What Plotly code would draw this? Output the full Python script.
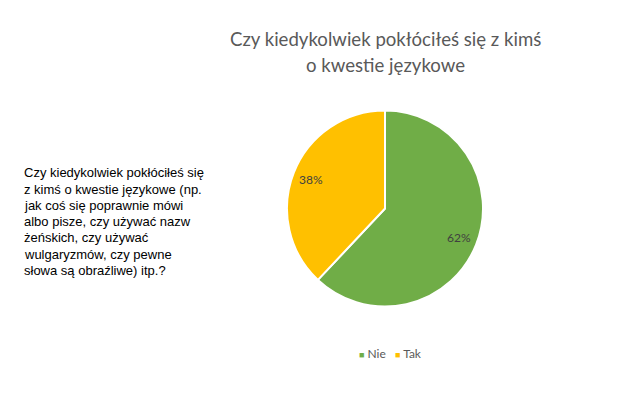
import math
import plotly.graph_objects as go

labels = ["Nie", "Tak"]
values = [62, 38]
colors = ["#70AD47", "#FFC000"]
title_lines = ["Czy kiedykolwiek pokłóciłeś się z kimś", "o kwestie językowe"]
question_lines = [
    "Czy kiedykolwiek pokłóciłeś się",
    "z kimś o kwestie językowe (np.",
    "jak coś się poprawnie mówi",
    "albo pisze, czy używać nazw",
    "żeńskich, czy używać",
    "wulgaryzmów, czy pewne",
    "słowa są obraźliwe) itp.?",
]

W, H = 625, 393
CX, CY, R = 377, 200.5, 98  # pie centre/radius in figure pixels (layout)

fig = go.Figure(go.Pie(
    labels=labels, values=values, sort=False, direction="clockwise", rotation=0,
    marker=dict(colors=colors, line=dict(color="white", width=2)),
    textinfo="none",
    domain=dict(x=[(CX - R) / W, (CX + R) / W], y=[(H - CY - R) / H, (H - CY + R) / H]),
    hoverinfo="skip", showlegend=False,
))

annotations = []
# Title lines
for i, line in enumerate(title_lines):
    annotations.append(dict(
        text=line, x=CX / W, y=1 - (31 + 26 * i) / H, xref="paper", yref="paper",
        xanchor="center", yanchor="middle", showarrow=False,
        font=dict(family="Lato, Open Sans, sans-serif", size=18.6, color="#595959")))

# Question text lines
for i, line in enumerate(question_lines):
    annotations.append(dict(
        text=line, x=15 / W, y=1 - (165 + 16.2 * i) / H, xref="paper", yref="paper",
        xanchor="left", yanchor="middle", showarrow=False, borderpad=0,
        font=dict(family="Liberation Sans, Arial, sans-serif", size=13, color="#000000")))

# Percent labels placed at the middle angle of each slice
total = sum(values)
cum = 0
for v in values:
    mid = 90 - (cum + v / 2) / total * 360
    cum += v
    rr = 0.81 * R
    px = CX + rr * math.cos(math.radians(mid))
    py = CY - rr * math.sin(math.radians(mid))
    annotations.append(dict(
        text=f"{round(v / total * 100)}%", x=px / W, y=1 - py / H, xref="paper", yref="paper",
        xanchor="center", yanchor="middle", showarrow=False,
        font=dict(family="Lato, Open Sans, sans-serif", size=12, color="#404040")))

# Legend
legend_text = "   ".join(
    f'<span style="color:{c};font-size:9px">■</span> {l}' for l, c in zip(labels, colors))
annotations.append(dict(
    text=legend_text, x=382 / W, y=1 - 345 / H, xref="paper", yref="paper",
    xanchor="center", yanchor="middle", showarrow=False,
    font=dict(family="Lato, Open Sans, sans-serif", size=12, color="#595959")))

fig.update_layout(
    width=W, height=H,
    margin=dict(l=0, r=0, t=0, b=0),
    paper_bgcolor="white", plot_bgcolor="white",
    annotations=annotations,
)

fig.write_html("out.html")
